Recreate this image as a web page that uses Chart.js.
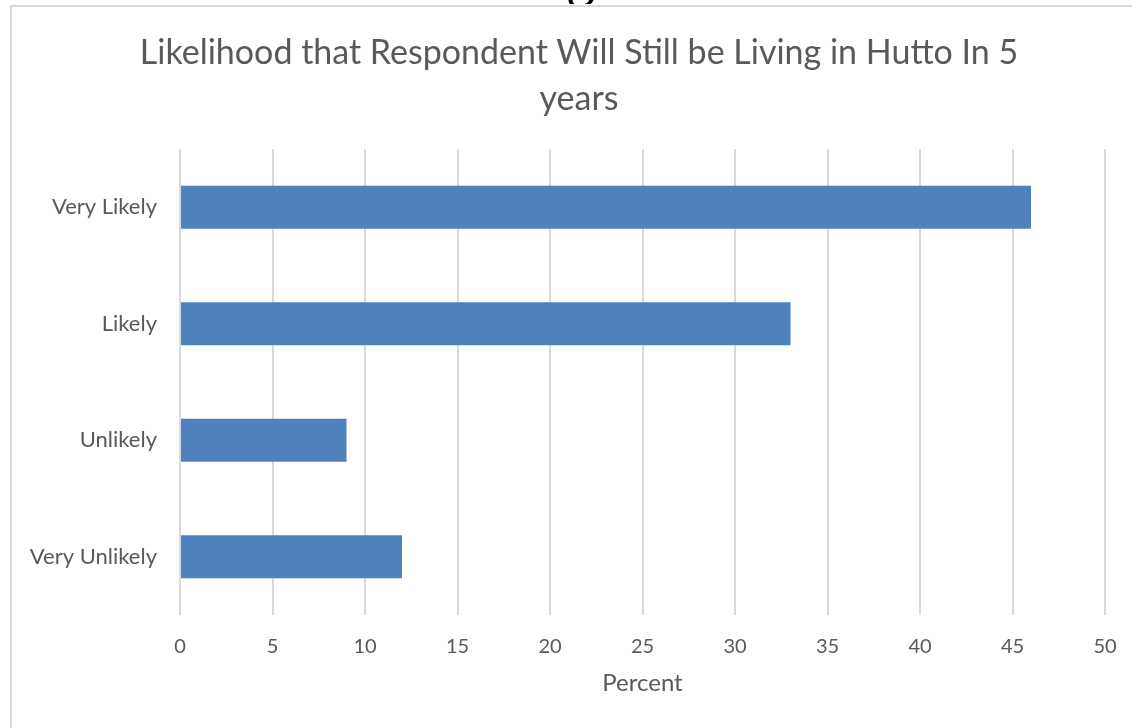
<!DOCTYPE html>
<html>
<head>
<meta charset="utf-8">
<script src="https://cdn.jsdelivr.net/npm/chart.js@4.4.1/dist/chart.umd.min.js"></script>
<style>
  html, body { margin: 0; padding: 0; background: #fff; overflow: hidden; }
  #wrap { position: relative; width: 1132px; height: 728px; }
  #frame { position: absolute; left: 10px; top: 5px; width: 1200px; height: 800px; border: 2px solid #d9d9d9; box-sizing: border-box; }
  #above { position: absolute; left: 540px; top: 0; width: 80px; height: 4px; overflow: hidden; }
  #above span { position: absolute; left: 26px; top: -58px; font: 58px "Liberation Serif", serif; color: #000; }
  #chartBox { position: absolute; left: 0; top: 0; width: 1132px; height: 728px; }
  #title { position: absolute; left: -21px; top: 28px; width: 1200px; text-align: center;
           font: 34px Lato, "Open Sans", sans-serif; line-height: 46px; color: #595959; }
</style>
</head>
<body>
<div id="wrap">
  <div id="frame"></div>
  <div id="above"><span>g</span></div>
  <div id="chartBox"><canvas id="likelyChart"></canvas></div>
  <div id="title"></div>
</div>
<script>
const categories = ["Very Likely", "Likely", "Unlikely", "Very Unlikely"];
const percents = [46, 33, 9, 12];
const titleLines = ["Likelihood that Respondent Will Still be Living in Hutto In 5", "years"];

const textColor = "#595959";
const font = "Lato, 'Open Sans', sans-serif";

// title sits a bit right of the plot centre in the original, so it is placed as a block
document.getElementById("title").innerHTML = titleLines.join("<br>");

const likelyChart = document.getElementById("likelyChart");

new Chart(likelyChart, {

    type: "bar",

    data: {
        labels: categories,
        datasets: [{
            label: "Percent",
            data: percents,
            backgroundColor: "#4f81bd",
            barPercentage: 0.37,
            categoryPercentage: 1
        }]
    },

    options: {
        indexAxis: "y",
        responsive: true,
        maintainAspectRatio: false,
        animation: false,
        layout: {
            padding: { left: 0, right: 27, top: 149, bottom: 30 }
        },
        plugins: {
            legend: { display: false },
            tooltip: { enabled: false },
            title: { display: false }
        },
        scales: {
            x: {
                min: 0,
                max: 50,
                ticks: {
                    stepSize: 5,
                    color: textColor,
                    padding: 20,
                    font: { family: font, size: 20 }
                },
                grid: {
                    color: "#d9d9d9",
                    lineWidth: 2,
                    drawTicks: false
                },
                border: { display: false },
                title: {
                    display: true,
                    text: "Percent",
                    color: textColor,
                    padding: { top: 0, bottom: 0 },
                    font: { family: font, size: 24 }
                },
                afterFit: function (scale) {
                    scale.height = 83;
                    // tick padding would otherwise eat into the right side
                    scale.paddingLeft = 0;
                    scale.paddingRight = 0;
                }
            },
            y: {
                ticks: {
                    color: textColor,
                    padding: 15,
                    font: { family: font, size: 22 }
                },
                grid: { display: false },
                border: { display: false },
                afterFit: function (scale) {
                    scale.width = 180;
                }
            }
        }
    }

});
</script>
</body>
</html>
